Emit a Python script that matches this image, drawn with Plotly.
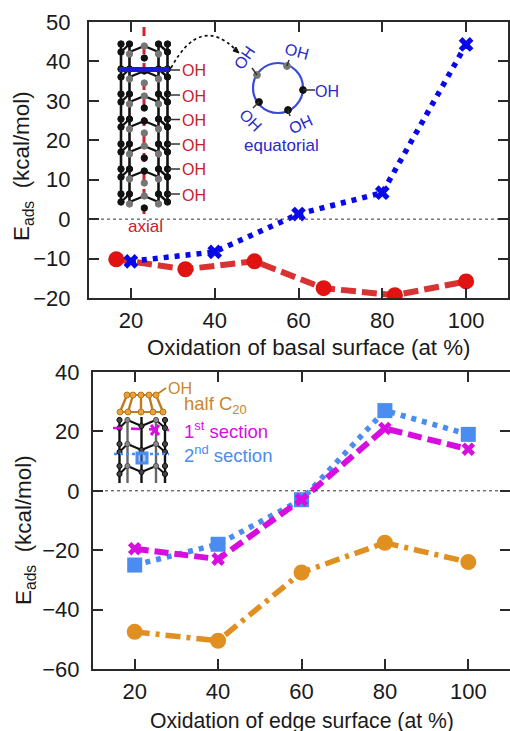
import plotly.graph_objects as go

W, H = 510, 731

# ---- data ----
basal_eq_x = [20, 40, 60, 80, 100]
basal_eq_y = [-10.7, -8.3, 1.3, 6.7, 44.3]
basal_ax_x = [16.5, 33, 49.5, 66, 83, 100]
basal_ax_y = [-10.2, -12.7, -10.7, -17.5, -19.3, -15.8]
edge_x = [20, 40, 60, 80, 100]
edge_half = [-47.5, -50.5, -27.5, -17.5, -24]
edge_first = [-19.5, -23, -3, 21, 14]
edge_second = [-25, -18, -3, 27, 19]
x_ticks = [20, 40, 60, 80, 100]
y_ticks_top = [-20, -10, 0, 10, 20, 30, 40, 50]
y_ticks_bot = [-60, -40, -20, 0, 20, 40]

BLUE = "#0808e8"
RED = "#e01212"
REDL = "#d83232"
MAG = "#d80ee0"
LBLUE = "#4a8cf0"
ORG = "#e09020"
TXTORG = "#c8862c"
TXTRED = "#c8202c"
TXTBLU = "#2a2ac8"
FONT = "Liberation Sans, Arial, sans-serif"
INK = "#2a2a2a"


def px(x):
    return x / W


def py(y):
    return 1 - y / H


shapes = []
annots = []


def line(x0, y0, x1, y1, color="#111111", width=2, dash="solid"):
    shapes.append(dict(type="line", xref="paper", yref="paper", x0=px(x0), y0=py(y0), x1=px(x1), y1=py(y1),
                       line=dict(color=color, width=width, dash=dash)))


def atom(x, y, r=3.2, fill="#111111", edge=None):
    shapes.append(dict(type="circle", xref="paper", yref="paper", x0=px(x - r), x1=px(x + r),
                       y0=py(y + r), y1=py(y - r), fillcolor=fill, line=dict(color=edge or fill, width=1)))


def label(x, y, text, color, size=16, angle=0, anchor="center"):
    annots.append(dict(xref="paper", yref="paper", x=px(x), y=py(y), text=text, showarrow=False,
                       textangle=angle, xanchor=anchor, yanchor="middle",
                       font=dict(color=color, size=size, family=FONT)))


def path(pts, color, width=2, dash="solid", fill=None):
    s = dict(type="path", xref="paper", yref="paper", path=pts, line=dict(color=color, width=width, dash=dash))
    if fill:
        s["fillcolor"] = fill
    shapes.append(s)


# ---- zero lines (dotted) ----
shapes.append(dict(type="line", xref="x domain", yref="y", x0=0, x1=1, y0=0, y1=0,
                   line=dict(color="#333333", width=1, dash="dot")))
shapes.append(dict(type="line", xref="x2 domain", yref="y2", x0=0, x1=1, y0=0, y1=0,
                   line=dict(color="#333333", width=1, dash="dot")))

# ---- top inset: tube, axial axis ----
line(144, 27, 144, 214, "#d8202c", 3, "dash")
tops = [44 + 25 * k for k in range(7)]
for cx, c in ((121, "#111111"), (167.5, "#111111"), (129.5, "#111111"), (158.5, "#111111")):
    line(cx, 44, cx, 202, c, 2.6)
for k, y in enumerate(tops):
    line(129.5, y + 8, 144.3, y + 2, "#111111", 2.4)
    line(158.5, y + 8, 144.3, y + 2, "#111111", 2.4)
    line(121, y + 8, 129.5, y, "#111111", 2.4)
    line(167.5, y + 8, 158.5, y, "#111111", 2.4)
    for cx in (121, 167.5):
        atom(cx, y, 3.2)
        atom(cx, y + 8, 3.2)
    atom(129.5, y, 3.2)
    atom(158.5, y, 3.2)
    atom(129.5, y + 10, 3.2, "#777777")
    atom(158.5, y + 10, 3.2, "#777777")
    atom(144.3, y + 2, 3.2, "#777777" if k % 2 == 0 else "#111111")
    atom(144.3, y + 14, 3.2, "#111111" if k % 2 == 0 else "#777777")
line(119, 69.5, 169, 69.5, "#1a1ad8", 5)
for y in [70, 95, 119.5, 144, 169, 194]:
    line(168, y, 180, y, "#333333", 1.5)
    label(180, y + 1, "OH", TXTRED, 16, anchor="left")
label(145, 226, "axial", TXTRED, 17)

# arrow arc
path(f"M {px(171)} {py(68)} Q {px(200)} {py(14)} {px(236)} {py(50)}", "#111111", 1.7, "dot")
path(f"M {px(239)} {py(53)} L {px(233)} {py(51)} L {px(236)} {py(47)} Z", "#111111", 1, fill="#111111")

# ring
shapes.append(dict(type="circle", xref="paper", yref="paper", x0=px(253), x1=px(303), y0=py(113), y1=py(63),
                   line=dict(color="#3a4ad8", width=2.2)))
ring = [(257, 75, "#777777"), (287, 66, "#777777"), (303, 90, "#111111"), (288, 110, "#111111"), (259, 102, "#111111")]
for x, y, c in ring:
    atom(x, y, 3.4, c)
line(303, 90, 315, 90, "#333333", 1.5)
line(287, 66, 289, 60, "#333333", 1.5)
line(257, 75, 252, 68, "#333333", 1.5)
line(259, 102, 253, 108, "#333333", 1.5)
line(288, 110, 290, 116, "#333333", 1.5)
label(245, 58, "OH", TXTBLU, 16, -55)
label(297, 51, "OH", TXTBLU, 16, 15)
label(327, 91, "OH", TXTBLU, 16)
label(251, 120, "OH", TXTBLU, 16, 45)
label(301, 125, "OH", TXTBLU, 16, -25)
label(281, 145, "equatorial", TXTBLU, 17)

# ---- bottom inset: half C20 cap on a tube ----
for x, c in ((119.5, "#111111"), (127.5, "#666666"), (141.5, "#111111"), (156, "#666666"), (165, "#111111")):
    line(x, 417, x, 483, c, 2.4)
for y in [420, 444, 466]:
    line(119.5, y + 8, 127.5, y, "#111111", 2)
    line(127.5, y, 141.5, y + 6, "#111111", 2)
    line(141.5, y + 6, 156, y, "#111111", 2)
    line(156, y, 165, y + 8, "#111111", 2)
    for x in (119.5, 165):
        atom(x, y, 2.6, "#444444", "#111111")
        atom(x, y + 8, 2.6, "#444444", "#111111")
    atom(127.5, y, 2.6, "#888888", "#555555")
    atom(156, y, 2.6, "#888888", "#555555")
    atom(141.5, y + 6, 2.6, "#444444", "#111111")
up = [127, 133, 141, 149, 156]
lo = [120, 128, 141, 153, 163]
for a, b in zip(up, lo):
    line(a, 395, b, 412, "#c07c1c", 2.4)
line(127, 395, 156, 395, "#c07c1c", 2)
line(120, 412, 163, 412, "#c07c1c", 2)
line(156, 395, 166, 388, "#c07c1c", 1.6)
for a in up:
    atom(a, 395, 3, "#e8a040", "#b87818")
for a in lo:
    atom(a, 412, 3, "#e8a040", "#b87818")
label(166, 388, "OH", TXTORG, 16, anchor="left")
label(182, 405, "half C<sub>20</sub>", TXTORG, 18.5, anchor="left")
label(182, 430, "1<sup>st</sup> section", MAG, 18.5, anchor="left")
label(182, 454, "2<sup>nd</sup> section", LBLUE, 18.5, anchor="left")
line(113, 428, 169, 430, MAG, 2.6, "dash")
line(114, 454, 169, 454, LBLUE, 2.6, "dot")
line(151, 425, 159, 435, MAG, 3)
line(159, 425, 151, 435, MAG, 3)
shapes.append(dict(type="rect", xref="paper", yref="paper", x0=px(137), x1=px(147), y0=py(463), y1=py(453),
                   line=dict(color=LBLUE, width=3), fillcolor="rgba(74,140,240,0.5)"))

# ---- axis titles ----
label(308, 347, "Oxidation of basal surface (at %)", "#1a1a1a", 22.3)
label(302, 721, "Oxidation of edge surface (at %)", "#1a1a1a", 21.2)
label(23, 166, "E<sub>ads</sub>  (kcal/mol)", "#1a1a1a", 22.4, -90)
label(25, 530, "E<sub>ads</sub>  (kcal/mol)", "#1a1a1a", 22.4, -90)

# ---- figure ----
fig = go.Figure()
fig.add_trace(go.Scatter(x=basal_ax_x, y=basal_ax_y, mode="lines+markers", name="axial",
                         line=dict(color=REDL, width=6, dash="15px,6px"),
                         marker=dict(color=RED, size=16, symbol="circle")))
fig.add_trace(go.Scatter(x=basal_eq_x, y=basal_eq_y, mode="lines+markers", name="equatorial",
                         line=dict(color=BLUE, width=5.5, dash="5px,6px"),
                         marker=dict(color=BLUE, size=13, symbol="x")))
fig.add_trace(go.Scatter(x=edge_x, y=edge_half, xaxis="x2", yaxis="y2", mode="lines+markers", name="half C20",
                         line=dict(color=ORG, width=5.5, dash="15px,6px,4px,6px"),
                         marker=dict(color=ORG, size=16, symbol="circle")))
fig.add_trace(go.Scatter(x=edge_x, y=edge_second, xaxis="x2", yaxis="y2", mode="lines+markers", name="2nd section",
                         line=dict(color=LBLUE, width=5.5, dash="5px,6px"),
                         marker=dict(color=LBLUE, size=15, symbol="square")))
fig.add_trace(go.Scatter(x=edge_x, y=edge_first, xaxis="x2", yaxis="y2", mode="lines+markers", name="1st section",
                         line=dict(color=MAG, width=6, dash="14px,6px"),
                         marker=dict(color=MAG, size=12, symbol="x")))

ax = dict(showgrid=False, zeroline=False, showline=True, mirror="ticks", linecolor=INK, linewidth=2,
          ticks="inside", ticklen=10, tickwidth=1.5, tickcolor=INK, automargin=False,
          tickfont=dict(size=22, color="#1a1a1a", family=FONT))

fig.update_layout(
    width=W, height=H, autosize=False, showlegend=False,
    paper_bgcolor="white", plot_bgcolor="rgba(0,0,0,0)",
    margin=dict(l=0, r=0, t=0, b=0),
    font=dict(family=FONT, color="#1a1a1a"),
    xaxis=dict(ax, domain=[px(89), px(508)], range=[10, 110], tickvals=x_ticks, anchor="y", ticklabelstandoff=2),
    yaxis=dict(ax, domain=[py(298), py(22)], range=[-20, 50], tickvals=y_ticks_top, anchor="x", ticklabelstandoff=12),
    xaxis2=dict(ax, domain=[px(93), 1], range=[10, 110], tickvals=x_ticks, anchor="y2", ticklabelstandoff=2),
    yaxis2=dict(ax, domain=[py(669), py(372)], range=[-60, 40], tickvals=y_ticks_bot, anchor="x2", ticklabelstandoff=7),
    shapes=shapes, annotations=annots,
)

fig.write_html("out.html", config=dict(displayModeBar=False),
               post_script="document.body.style.margin='0';document.documentElement.style.overflow='hidden';window.dispatchEvent(new Event('resize'));")
